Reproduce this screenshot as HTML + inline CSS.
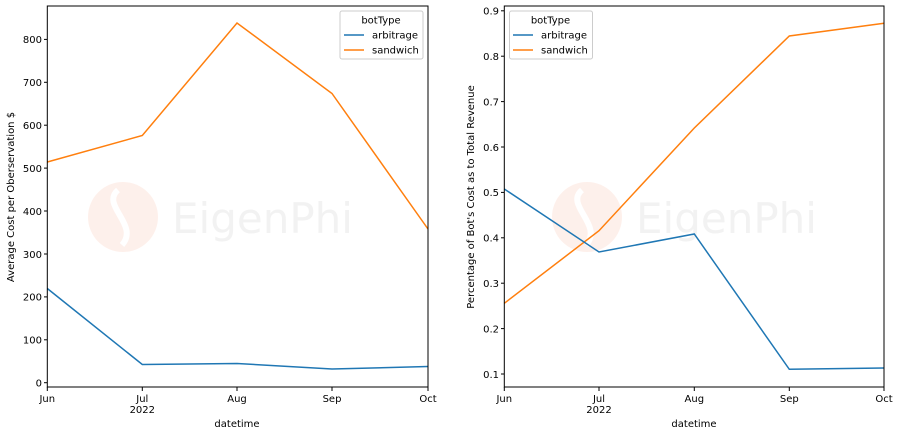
<!DOCTYPE html>
<html><head><meta charset="utf-8"><style>
body{margin:0;background:#fff;}
svg{display:block;font-family:"DejaVu Sans","Liberation Sans",sans-serif;}
</style></head><body>
<svg width="899" height="435" viewBox="0 0 899 435" xmlns="http://www.w3.org/2000/svg">
<rect width="899" height="435" fill="#fff"/>
<!-- watermarks -->
<g opacity="0.5">
<circle cx="123" cy="217" r="35" fill="#fde2d8"/>
<path d="M118 190 C100 205,140 225,122 245" stroke="#fff" stroke-width="6" fill="none"/>
<text x="172" y="233" font-size="42" fill="#e6e6e6" font-family="DejaVu Sans">EigenPhi</text>
<circle cx="587" cy="217" r="35" fill="#fde2d8"/>
<path d="M582 190 C564 205,604 225,586 245" stroke="#fff" stroke-width="6" fill="none"/>
<text x="636" y="233" font-size="42" fill="#e6e6e6" font-family="DejaVu Sans">EigenPhi</text>
</g>
<!-- left chart -->
<g font-size="10" fill="#000">
<polyline points="47.3,162 142.3,135.5 237,23 332,93.5 428,229" fill="none" stroke="#ff7f0e" stroke-width="1.5"/>
<polyline points="47.3,288.5 142.3,364.5 237,363.5 332,369 428,366.5" fill="none" stroke="#1f77b4" stroke-width="1.5"/>
<rect x="47.3" y="6" width="380.7" height="381" fill="none" stroke="#000" stroke-width="1"/>
<g stroke="#000">
<line x1="44" x2="47.3" y1="382.7" y2="382.7"/><line x1="44" x2="47.3" y1="339.8" y2="339.8"/>
<line x1="44" x2="47.3" y1="296.9" y2="296.9"/><line x1="44" x2="47.3" y1="254" y2="254"/>
<line x1="44" x2="47.3" y1="211" y2="211"/><line x1="44" x2="47.3" y1="168.1" y2="168.1"/>
<line x1="44" x2="47.3" y1="125.2" y2="125.2"/><line x1="44" x2="47.3" y1="82.3" y2="82.3"/>
<line x1="44" x2="47.3" y1="39.4" y2="39.4"/>
<line x1="47.3" x2="47.3" y1="387" y2="391"/><line x1="142.3" x2="142.3" y1="387" y2="391"/>
<line x1="237" x2="237" y1="387" y2="391"/><line x1="332" x2="332" y1="387" y2="391"/>
<line x1="428" x2="428" y1="387" y2="391"/>
</g>
<g text-anchor="end">
<text x="42" y="386.5">0</text><text x="42" y="343.6">100</text><text x="42" y="300.7">200</text>
<text x="42" y="257.8">300</text><text x="42" y="214.8">400</text><text x="42" y="171.9">500</text>
<text x="42" y="129">600</text><text x="42" y="86.1">700</text><text x="42" y="43.2">800</text>
</g>
<g text-anchor="middle">
<text x="47.3" y="402">Jun</text><text x="142.3" y="402">Jul</text><text x="142.3" y="413">2022</text>
<text x="237" y="402">Aug</text><text x="332" y="402">Sep</text><text x="428" y="402">Oct</text>
<text x="237" y="427">datetime</text>
<text transform="translate(14,197) rotate(-90)">Average Cost per Oberservation $</text>
</g>
<rect x="340" y="11" width="83" height="48" rx="2" fill="#fff" fill-opacity="0.8" stroke="#ccc"/>
<text x="381" y="23.5" text-anchor="middle">botType</text>
<line x1="344" x2="364" y1="35" y2="35" stroke="#1f77b4" stroke-width="1.5"/>
<text x="372" y="38.5">arbitrage</text>
<line x1="344" x2="364" y1="50" y2="50" stroke="#ff7f0e" stroke-width="1.5"/>
<text x="372" y="53.5">sandwich</text>
</g>
<!-- right chart -->
<g font-size="10" fill="#000">
<polyline points="504.3,303.3 599,230.7 694.3,128 789.3,36 884,23.3" fill="none" stroke="#ff7f0e" stroke-width="1.5"/>
<polyline points="504.3,189 599,252 694.3,234 789.3,369.3 884,368" fill="none" stroke="#1f77b4" stroke-width="1.5"/>
<rect x="504.3" y="6" width="379.7" height="381" fill="none" stroke="#000" stroke-width="1"/>
<g stroke="#000">
<line x1="501" x2="504.3" y1="374" y2="374"/><line x1="501" x2="504.3" y1="328.6" y2="328.6"/>
<line x1="501" x2="504.3" y1="283.2" y2="283.2"/><line x1="501" x2="504.3" y1="237.8" y2="237.8"/>
<line x1="501" x2="504.3" y1="192.4" y2="192.4"/><line x1="501" x2="504.3" y1="147" y2="147"/>
<line x1="501" x2="504.3" y1="101.6" y2="101.6"/><line x1="501" x2="504.3" y1="56.2" y2="56.2"/>
<line x1="501" x2="504.3" y1="10.8" y2="10.8"/>
<line x1="504.3" x2="504.3" y1="387" y2="391"/><line x1="599" x2="599" y1="387" y2="391"/>
<line x1="694.3" x2="694.3" y1="387" y2="391"/><line x1="789.3" x2="789.3" y1="387" y2="391"/>
<line x1="884" x2="884" y1="387" y2="391"/>
</g>
<g text-anchor="end">
<text x="499" y="377.8">0.1</text><text x="499" y="332.4">0.2</text><text x="499" y="287">0.3</text>
<text x="499" y="241.6">0.4</text><text x="499" y="196.2">0.5</text><text x="499" y="150.8">0.6</text>
<text x="499" y="105.4">0.7</text><text x="499" y="60">0.8</text><text x="499" y="14.6">0.9</text>
</g>
<g text-anchor="middle">
<text x="504.3" y="402">Jun</text><text x="599" y="402">Jul</text><text x="599" y="413">2022</text>
<text x="694.3" y="402">Aug</text><text x="789.3" y="402">Sep</text><text x="884" y="402">Oct</text>
<text x="694" y="427">datetime</text>
<text transform="translate(474,197) rotate(-90)">Percentage of Bot's Cost as to Total Revenue</text>
</g>
<rect x="509.5" y="11" width="83" height="48" rx="2" fill="#fff" fill-opacity="0.8" stroke="#ccc"/>
<text x="550.5" y="23.5" text-anchor="middle">botType</text>
<line x1="513" x2="533" y1="35" y2="35" stroke="#1f77b4" stroke-width="1.5"/>
<text x="541" y="38.5">arbitrage</text>
<line x1="513" x2="533" y1="50" y2="50" stroke="#ff7f0e" stroke-width="1.5"/>
<text x="541" y="53.5">sandwich</text>
</g>
</svg>
</body></html>
